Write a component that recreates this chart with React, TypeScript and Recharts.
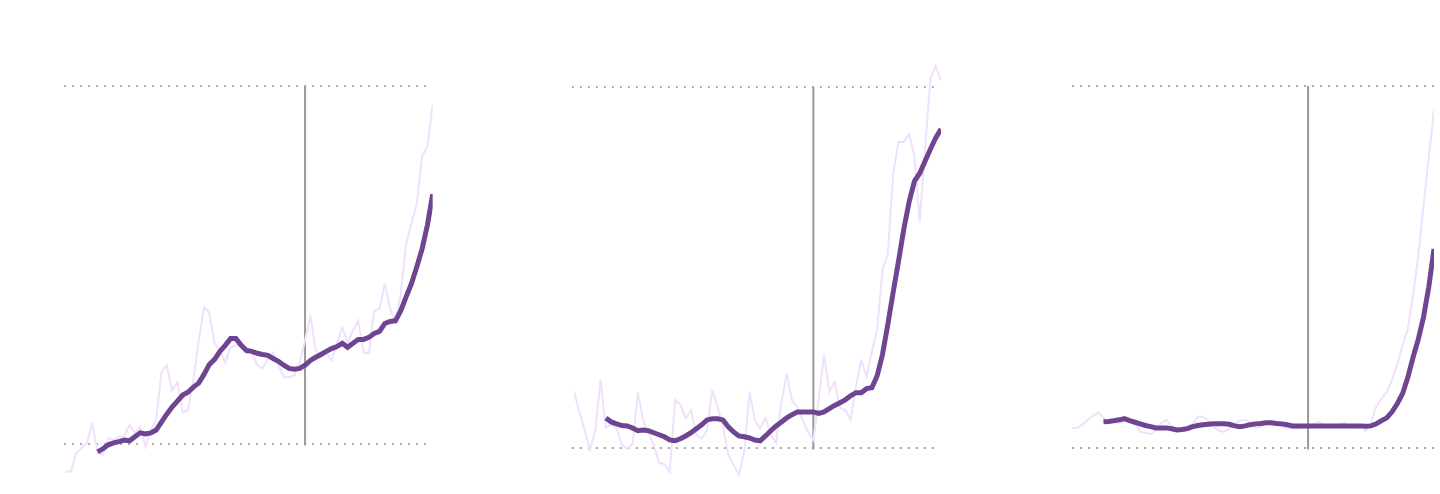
import React from 'react';
import { LineChart, Line, XAxis, YAxis, ReferenceLine } from 'recharts';

// day index (categories)
const days: number[] = Array.from({ length: 70 }, (_, i) => i);

const GRID_LOW = 10;
const GRID_HIGH = 100;
const MARKER_DAY = 45;

// Panel 1
const p1Raw = [
  3.0, 3.1, 7.8, 9.0, 10.3, 15.3, 7.8, 7.3, 11.5, 11.0,
  11.8, 12.0, 14.8, 12.8, 14.3, 9.3, 13.5, 16.0, 28.0, 29.8,
  23.5, 25.5, 18.0, 18.5, 26.0, 36.0, 44.3, 43.0, 35.3, 33.5,
  30.5, 34.3, 34.8, 34.8, 34.0, 33.0, 29.8, 29.0, 31.5, 33.0,
  29.8, 26.8, 26.8, 27.3, 30.5, 36.0, 42.3, 33.5, 32.3, 33.0,
  31.0, 35.3, 39.3, 35.5, 38.5, 41.0, 33.0, 32.8, 43.5, 44.0,
  50.3, 44.0, 40.5, 47.8, 60.3, 65.5, 70.3, 82.3, 84.8, 95.3,
];
const p1Smooth = [
  null, null, null, null, null, null, 8.0, 8.8, 9.8, 10.3,
  10.6, 11.0, 10.8, 11.8, 12.8, 12.5, 12.8, 13.5, 15.5, 17.5,
  19.3, 20.8, 22.3, 23.0, 24.3, 25.3, 27.5, 30.0, 31.3, 33.3,
  34.8, 36.5, 36.5, 34.8, 33.5, 33.3, 32.8, 32.5, 32.3, 31.5,
  30.8, 29.8, 29.0, 28.8, 29.0, 29.8, 31.0, 31.8, 32.5, 33.3,
  34.0, 34.5, 35.3, 34.3, 35.3, 36.3, 36.3, 36.8, 37.8, 38.3,
  40.3, 40.8, 41.0, 43.5, 47.0, 50.3, 54.5, 59.0, 65.0, 72.8,
];

// Panel 2
const p2Raw = [
  24.0, 19.0, 14.5, 9.5, 14.5, 27.0, 15.0, 15.8, 14.8, 10.8,
  9.8, 11.0, 23.8, 17.0, 13.8, 10.8, 6.3, 6.0, 4.0, 22.0,
  20.8, 17.3, 19.5, 13.3, 12.3, 14.5, 24.5, 20.3, 15.3, 8.3,
  5.8, 3.3, 9.0, 24.0, 17.0, 14.8, 17.5, 13.3, 11.3, 21.5,
  28.5, 21.8, 20.3, 16.8, 14.0, 12.0, 22.0, 33.3, 24.0, 26.5,
  20.0, 19.5, 17.0, 25.3, 32.0, 27.8, 34.0, 39.5, 54.5, 58.3,
  78.3, 86.3, 86.3, 88.3, 82.8, 66.5, 84.5, 102.0, 105.3, 101.5,
];
const p2Smooth = [
  null, null, null, null, null, null, 17.5, 16.5, 16.0, 15.6,
  15.5, 15.0, 14.3, 14.5, 14.3, 13.8, 13.3, 12.8, 12.0, 11.8,
  12.3, 13.0, 13.8, 14.8, 15.8, 17.0, 17.3, 17.3, 17.0, 15.3,
  14.0, 13.0, 12.8, 12.5, 12.0, 11.8, 13.0, 14.3, 15.5, 16.5,
  17.5, 18.3, 19.0, 19.0, 19.0, 19.0, 18.6, 19.0, 19.8, 20.6,
  21.3, 22.0, 23.0, 23.8, 23.8, 24.8, 25.0, 28.0, 33.3, 40.8,
  48.8, 56.5, 64.5, 71.3, 76.5, 78.5, 81.5, 84.5, 87.3, 89.5,
];

// Panel 3
const p3Raw = [
  15.0, 15.0, 15.8, 17.0, 18.0, 18.8, 17.5, 16.3, 16.3, 16.3,
  16.5, 16.8, 16.5, 14.0, 13.8, 13.5, 14.5, 16.3, 17.0, 15.3,
  14.8, 15.0, 15.3, 16.0, 17.8, 17.8, 16.8, 15.3, 14.3, 14.0,
  14.8, 16.0, 16.8, 17.0, 16.3, 15.0, 15.3, 16.3, 16.3, 15.8,
  15.3, 15.0, 15.0, 14.8, 15.0, 15.3, 15.8, 16.5, 15.8, 15.3,
  15.5, 16.0, 16.3, 15.3, 15.0, 15.3, 14.3, 16.3, 20.3, 22.3,
  24.0, 27.0, 30.8, 35.5, 39.5, 47.8, 57.8, 70.3, 82.0, 94.0,
];
const p3Smooth = [
  null, null, null, null, null, null, 16.5, 16.6, 16.8, 17.0,
  17.3, 16.8, 16.4, 16.0, 15.6, 15.3, 15.0, 15.0, 15.0, 14.8,
  14.5, 14.6, 14.8, 15.3, 15.6, 15.8, 15.9, 16.0, 16.0, 16.0,
  15.9, 15.5, 15.3, 15.5, 15.8, 16.0, 16.1, 16.3, 16.3, 16.1,
  16.0, 15.8, 15.5, 15.5, 15.5, 15.5, 15.5, 15.5, 15.5, 15.5,
  15.5, 15.5, 15.5, 15.5, 15.5, 15.5, 15.4, 15.5, 16.0, 16.8,
  17.5, 19.0, 21.0, 23.5, 27.5, 32.5, 37.0, 42.5, 50.0, 59.5,
];

type PanelProps = {
  raw: (number | null)[];
  smooth: (number | null)[];
  left: number;
  margin: { top: number; right: number; bottom: number; left: number };
  gridFrom: number;
  gridTo: number;
};

function Panel({ raw, smooth, left, margin, gridFrom, gridTo }: PanelProps) {
  const data = days.map((d, i) => ({ day: d, raw: raw[i], smooth: smooth[i] }));
  return (
    <div style={{ position: 'absolute', left, top: 0 }}>
      <LineChart width={480} height={494} data={data} margin={margin}>
        <XAxis dataKey="day" type="number" domain={[0, 69]} hide allowDataOverflow />
        <YAxis type="number" domain={[0, 115]} hide allowDataOverflow />
        <ReferenceLine
          segment={[{ x: gridFrom, y: GRID_HIGH }, { x: gridTo, y: GRID_HIGH }]}
          stroke="#aaaaaa"
          strokeWidth={2}
          strokeDasharray="2 6"
          ifOverflow="visible"
        />
        <ReferenceLine
          segment={[{ x: gridFrom, y: GRID_LOW }, { x: gridTo, y: GRID_LOW }]}
          stroke="#aaaaaa"
          strokeWidth={2}
          strokeDasharray="2 6"
          ifOverflow="visible"
        />
        <ReferenceLine
          segment={[{ x: MARKER_DAY, y: GRID_HIGH }, { x: MARKER_DAY, y: GRID_LOW - 0.4 }]}
          stroke="#999999"
          strokeWidth={2}
          ifOverflow="visible"
        />
        <Line
          type="linear"
          dataKey="raw"
          stroke="#f0e0fc"
          strokeWidth={2}
          dot={false}
          activeDot={false}
          isAnimationActive={false}
        />
        <Line
          type="linear"
          dataKey="smooth"
          stroke="#6f4591"
          strokeWidth={5}
          dot={false}
          activeDot={false}
          isAnimationActive={false}
        />
      </LineChart>
    </div>
  );
}

export default function App() {
  return (
    <div style={{ position: 'absolute', left: 0, top: 0, width: 1440, height: 494, background: '#fff' }}>
      <Panel
        raw={p1Raw}
        smooth={p1Smooth}
        left={0}
        margin={{ top: 26.33, right: 47.3, bottom: 10.22, left: 65.7 }}
        gridFrom={-0.3}
        gridTo={68.1}
      />
      <Panel
        raw={p2Raw}
        smooth={p2Smooth}
        left={480}
        margin={{ top: 26.83, right: 19, bottom: 5.89, left: 94 }}
        gridFrom={-0.4}
        gridTo={67.9}
      />
      <Panel
        raw={p3Raw}
        smooth={p3Smooth}
        left={960}
        margin={{ top: 25.67, right: 6, bottom: 5.78, left: 112 }}
        gridFrom={0}
        gridTo={69.4}
      />
    </div>
  );
}
